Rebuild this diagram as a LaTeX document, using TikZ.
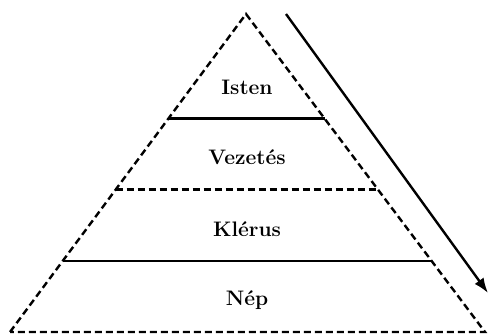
\documentclass[tikz,border=0pt]{standalone}
\usetikzlibrary{calc,arrows.meta}
\begin{document}
\begin{tikzpicture}[x=1pt,y=-1pt,
  edge/.style={line width=2.4pt, dash pattern=on 7pt off 4pt},
  level/.style={line width=2.4pt},
  tiername/.style={font=\fontsize{21}{25}\selectfont\bfseries}]
			%%%%% START %%%%%
			\useasboundingbox (0,0) rectangle (492,334);
			
			\coordinate (apex) at (246, 14);
			\coordinate (bl) at (10, 332);
			\coordinate (br) at (485, 332);
			
			\draw[edge] (bl) -- (apex) -- (br) -- cycle;
			
			% levels
			\draw[level] ($(apex)!0.329!(bl)$) -- ($(apex)!0.329!(br)$);
			\draw[edge] ($(apex)!0.552!(bl)$) -- ($(apex)!0.552!(br)$);
			\draw[level] ($(apex)!0.777!(bl)$) -- ($(apex)!0.777!(br)$);
			
			\node[tiername] (isten) at (247, 87) {Isten};
			\node[tiername] (vezetes) at (247, 157) {Vezetés};
			\node[tiername] (klerus) at (247, 229) {Klérus};
			\node[tiername] (nep) at (247, 300) {Nép};
			
			% arrow
			\coordinate (from) at (286, 14);
			\coordinate (to) at (488, 293);
			\draw[line width=2.4pt, -{Latex[length=15pt,width=11pt]}] (from) -- (to);
			%%%%% END %%%%%
\end{tikzpicture}
\end{document}
